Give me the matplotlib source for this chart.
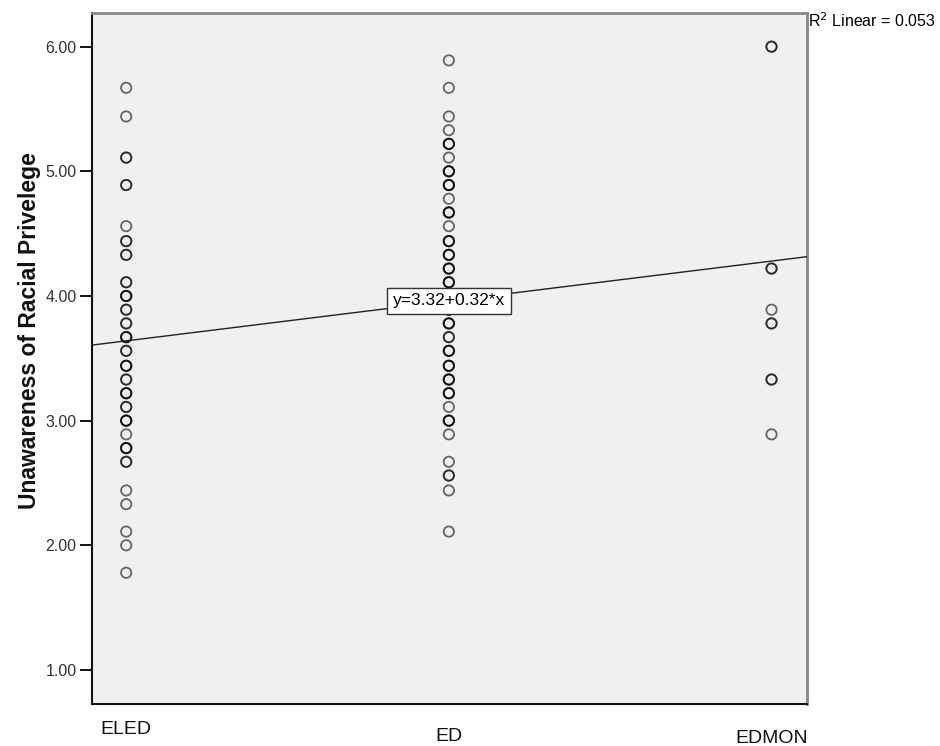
import numpy as np
import matplotlib
matplotlib.use("Agg")
import matplotlib.pyplot as plt
from matplotlib.transforms import ScaledTranslation

plt.rcParams['font.family'] = ['Liberation Sans', 'DejaVu Sans']

# categories coded 1, 2, 3
categories = ["ELED", "ED", "EDMON"]
codes = [1, 2, 3]

# observed scores (scale in ninths) and how many cases sit on each value
eled_vals = [5.67, 5.44, 5.11, 4.89, 4.56, 4.44, 4.33, 4.11, 4.00, 3.89, 3.78, 3.67, 3.56,
             3.44, 3.33, 3.22, 3.11, 3.00, 2.89, 2.78, 2.67, 2.44, 2.33, 2.11, 2.00, 1.78]
eled_n = [1, 1, 2, 2, 1, 2, 2, 2, 3, 2, 2, 3, 2, 3, 2, 3, 2, 3, 1, 3, 2, 1, 1, 1, 1, 1]

ed_vals = [5.89, 5.67, 5.44, 5.33, 5.22, 5.11, 5.00, 4.89, 4.78, 4.67, 4.56, 4.44, 4.33, 4.22,
           4.11, 4.00, 3.89, 3.78, 3.67, 3.56, 3.44, 3.33, 3.22, 3.11, 3.00, 2.89, 2.67, 2.56,
           2.44, 2.11]
ed_n = [1, 1, 1, 1, 3, 1, 3, 3, 1, 3, 1, 3, 3, 3, 3, 3, 3, 3, 2, 3, 3, 3, 3, 1, 3, 1, 1, 2, 1, 1]

edmon_vals = [6.00, 4.22, 3.89, 3.78, 3.33, 2.89]
edmon_n = [2, 2, 1, 2, 2, 1]

# fit line as reported
intercept = 3.32
slope = 0.32
r2 = 0.053

yticks = [1.0, 2.0, 3.0, 4.0, 5.0, 6.0]

fig = plt.figure(figsize=(9.4, 7.46), dpi=100)
ax = fig.add_axes([92 / 940, 1 - 704 / 746, (807 - 92) / 940, (704 - 13) / 746])
ax.set_facecolor("#f0f0f0")

groups = [(eled_vals, eled_n), (ed_vals, ed_n), (edmon_vals, edmon_n)]
for code, (vals, counts) in zip(codes, groups):
    xs, ys = [], []
    for v, n in zip(vals, counts):
        xs += [code] * n
        ys += [v] * n
    ax.scatter(xs, ys, s=55, facecolors="none", edgecolors="black",
               linewidths=1.3, alpha=0.58, zorder=3)

xlim = (0.894, 3.11)
ax.set_xlim(*xlim)
ax.set_ylim(0.727, 6.27)

xl = np.array(xlim)
ax.plot(xl, intercept + slope * xl, color="#202020", lw=1.0, zorder=4)

ax.text(2, intercept + slope * 2, "y=%.2f+%.2f*x" % (intercept, slope),
        ha="center", va="center", fontsize=12.5, zorder=6,
        bbox=dict(boxstyle="square,pad=0.32", fc="white", ec="#333333", lw=1.0))

ax.set_yticks(yticks)
ax.set_yticklabels(["%.2f" % t for t in yticks], fontsize=11.5, color="#333333")
ax.set_xticks(codes)
ax.set_xticklabels(categories, fontsize=14, color="#111111")
ax.tick_params(axis="x", length=0, pad=14)
ax.tick_params(axis="y", length=9, width=1.3, pad=2)

# spss staggers the category labels a little
for lab, dy in zip(ax.get_xticklabels(), [2, -5, -7]):
    lab.set_transform(lab.get_transform() + ScaledTranslation(0, dy / 100, fig.dpi_scale_trans))

ax.set_ylabel("Unawareness of Racial Privelege", fontsize=16.5, fontweight="bold", color="#111111")
ax.yaxis.set_label_coords(-0.072, 0.54)

for side in ["left", "bottom"]:
    ax.spines[side].set_linewidth(1.5)
    ax.spines[side].set_color("#111111")
for side in ["top", "right"]:
    ax.spines[side].set_linewidth(2)
    ax.spines[side].set_color("#888888")

fig.text(808 / 940, 1 - 21 / 746, "R$^2$ Linear = %.3f" % r2, fontsize=11.5, va="center", ha="left")

fig.savefig("out.png", dpi=100)
